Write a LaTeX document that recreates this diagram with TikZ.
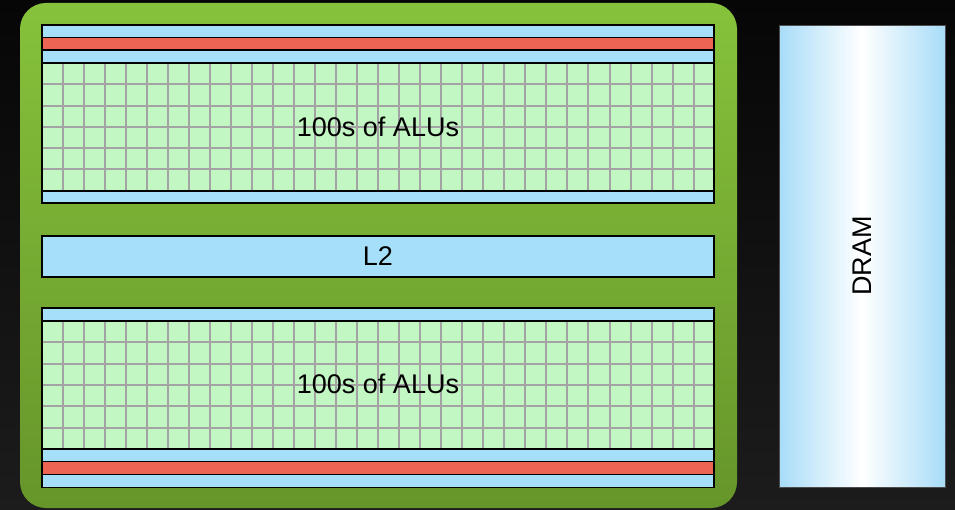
\documentclass[tikz,border=0pt]{standalone}
\usepackage{fontspec}
\setmainfont{Liberation Sans}
\definecolor{bgtop}{HTML}{060606}
\definecolor{bgbot}{HTML}{1C1C1C}
\definecolor{gtop}{HTML}{86C23B}
\definecolor{gbot}{HTML}{66952A}
\definecolor{cacheblue}{HTML}{A6DFF9}
\definecolor{regred}{HTML}{EE6452}
\definecolor{alugreen}{HTML}{C2F6C2}
\definecolor{gridgray}{HTML}{A3A3A3}
\definecolor{dramblue}{HTML}{A8DCF8}
\tikzset{
  strip/.style={draw=black, line width=1.8pt},
  gridline/.style={draw=gridgray, line width=2pt},
  lbl/.style={font=\fontsize{27}{30}\selectfont, text=black, inner sep=0pt},
}
\begin{document}
\begin{tikzpicture}[x=1pt,y=-1pt]
\useasboundingbox (0,0) rectangle (955,510);
\shade[top color=bgtop, bottom color=bgbot] (0,0) rectangle (955,510);
% chip
\shade[top color=gtop, bottom color=gbot, rounded corners=26pt] (20,3) rectangle (737,508);
% top SM block
\fill[alugreen] (41.7,63) rectangle (714,190.7);
\foreach \i in {1,...,31} \draw[gridline] (41.7+21.03*\i,63) -- (41.7+21.03*\i,190.7);
\foreach \j in {1,...,5} \draw[gridline] (41.7,63+21.28*\j) -- (714,63+21.28*\j);
\draw[strip, fill=cacheblue] (41.7,25) rectangle (714,37.5);
\draw[strip, fill=regred] (41.7,37.5) rectangle (714,50.3);
\draw[strip, fill=cacheblue] (41.7,50.3) rectangle (714,63);
\draw[strip, fill=cacheblue] (41.7,190.7) rectangle (714,203);
\draw[strip] (41.7,25) rectangle (714,203);
\node[lbl] (alu1) at (378,127) {100s of ALUs};
% L2
\draw[strip, fill=cacheblue] (41.7,235.7) rectangle (714,277) node[midway, lbl] (l2) {L2};
% bottom SM block
\fill[alugreen] (41.7,321) rectangle (714,449);
\foreach \i in {1,...,31} \draw[gridline] (41.7+21.03*\i,321) -- (41.7+21.03*\i,449);
\foreach \j in {1,...,5} \draw[gridline] (41.7,321+21.33*\j) -- (714,321+21.33*\j);
\draw[strip, fill=cacheblue] (41.7,308) rectangle (714,321);
\draw[strip, fill=cacheblue] (41.7,449) rectangle (714,461.5);
\draw[strip, fill=regred] (41.7,461.5) rectangle (714,474.5);
\draw[strip, fill=cacheblue] (41.7,474.5) rectangle (714,487.5);
\draw[strip] (41.7,308) rectangle (714,487.5);
\node[lbl] (alu2) at (378,384) {100s of ALUs};
% DRAM
\shade[left color=dramblue, right color=dramblue, middle color=white] (779,25.5) rectangle (945,487);
\draw[draw=black!70, line width=0.8pt] (779,25.5) rectangle (945,487);
\node[lbl, rotate=90] (dram) at (862,256) {DRAM};
\end{tikzpicture}
\end{document}
